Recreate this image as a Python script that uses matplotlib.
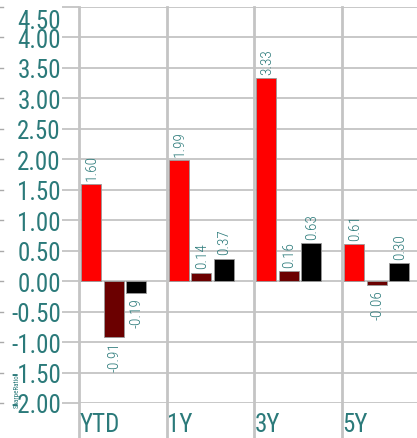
import matplotlib
matplotlib.use("Agg")
import matplotlib.pyplot as plt
import matplotlib.transforms as mtransforms
import numpy as np

categories = ["YTD", "1Y", "3Y", "5Y"]
fund = [1.60, 1.99, 3.33, 0.61]
index = [-0.91, 0.14, 0.16, -0.06]
category_avg = [-0.19, 0.37, 0.63, 0.30]
yticks = [-2.0, -1.5, -1.0, -0.5, 0.0, 0.5, 1.0, 1.5, 2.0, 2.5, 3.0, 3.5, 4.0, 4.5]

plt.rcParams['font.family'] = ['Roboto Condensed', 'DejaVu Sans']

teal = '#2b7a7a'
grid = '#c4c4c4'
W, H = 417, 439
fig = plt.figure(figsize=(W / 100, H / 100), dpi=100)
left, right, top, bottom = 79, 417, 8, 404
ax = fig.add_axes([left / W, (H - bottom) / H, (right - left) / W, (bottom - top) / H])

cat_px = 87.7
ax.set_xlim(0, (right - left) / cat_px)
ax.set_ylim(-2.0, 4.5)

x = np.arange(len(categories))
bw = 20 / cat_px
step = 22.5 / cat_px
start = 2 / cat_px
series = [(fund, '#ff0000'), (index, '#6b0000'), (category_avg, '#000000')]
for k, (vals, col) in enumerate(series):
    xs = x + start + k * step
    ax.bar(xs, vals, width=bw, align='edge', color=col, edgecolor='#9a9a9a',
           linewidth=0.6, zorder=3)
    for xi, v in zip(xs, vals):
        off = 3 if v >= 0 else -3
        ax.annotate(f"{v:.2f}", (xi + bw / 2, v), xytext=(0.5, off),
                    textcoords='offset points', rotation=90, ha='center',
                    va='bottom' if v >= 0 else 'top', color=teal,
                    fontsize=11, fontweight=300)

for s in ax.spines.values():
    s.set_visible(False)
ax.set_yticks(yticks)
ax.set_yticklabels([f"{t:.2f}" for t in yticks])
ax.tick_params(axis='y', length=12, width=1.3, color=grid, labelcolor=teal,
               labelsize=18, pad=1)
ax.set_xticks([])
for t in yticks:
    ax.axhline(t, color=grid, lw=1.3, zorder=1)
# top label pushed inside the figure
lab = ax.get_yticklabels()[-1]
lab.set_transform(lab.get_transform() +
                  mtransforms.ScaledTranslation(0, -0.12, fig.dpi_scale_trans))

# vertical category lines extending below the axis
ext = -(H - bottom) / (bottom - top)
trans = mtransforms.blended_transform_factory(ax.transData, ax.transAxes)
for i in range(len(categories)):
    ax.plot([i, i], [ext, 1], transform=trans, color=grid, lw=2, clip_on=False,
            zorder=2)
    ax.text(i + 0.5 / cat_px, ext + 0.005, categories[i], transform=trans,
            ha='left', va='bottom', color=teal, fontsize=18)

# tiny marks at the far left
ftrans = mtransforms.blended_transform_factory(fig.transFigure, ax.transData)
for t in yticks:
    ax.plot([0, 3 / W], [t, t], transform=ftrans, color='#aaaaaa', lw=1,
            clip_on=False)

fig.text(17 / W, (H - 391) / H, "SharpeRatio", rotation=90, ha='center',
         va='center', color=teal, fontsize=5)

fig.savefig("out.png", dpi=100)
